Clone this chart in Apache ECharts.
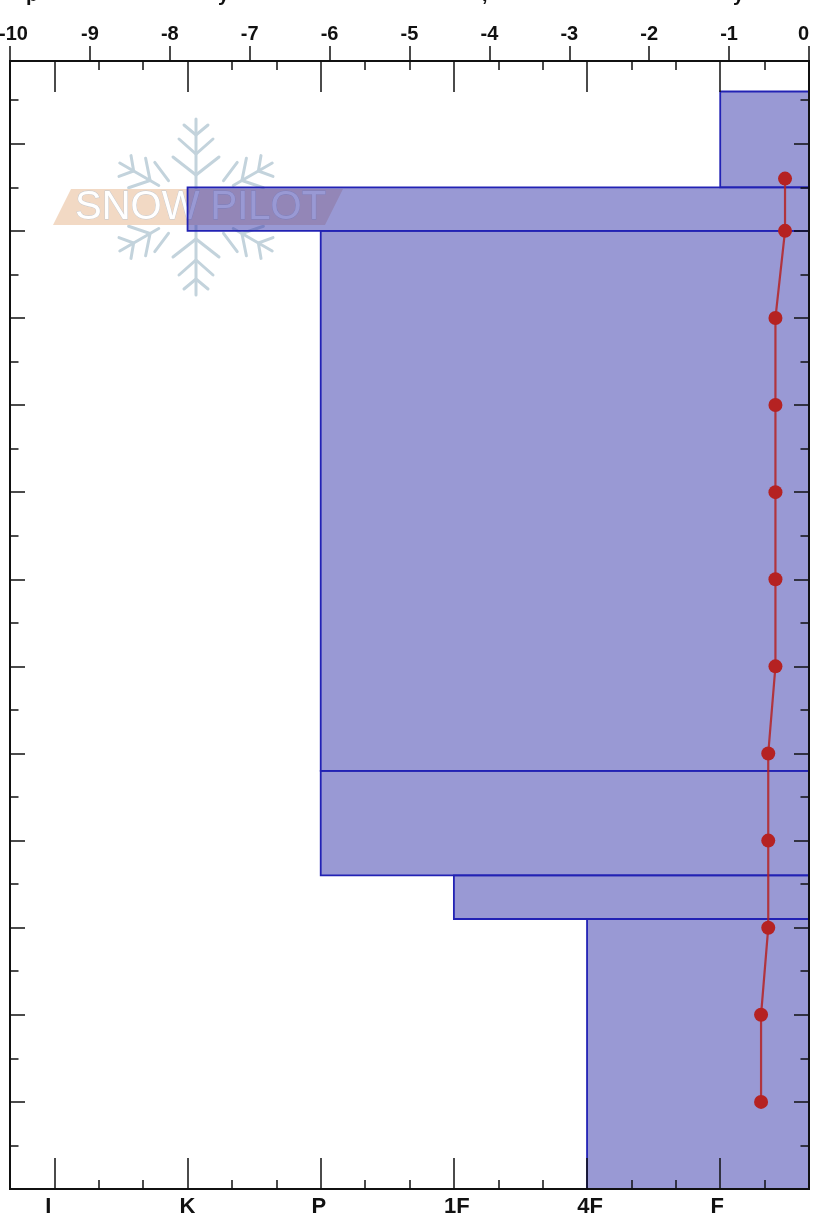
<!DOCTYPE html>
<html>
<head>
<meta charset="utf-8" />
<title>Snow profile</title>
<script src="https://cdn.jsdelivr.net/npm/echarts@6/dist/echarts.min.js"></script>
<style>
html, body { margin: 0; padding: 0; background: #fff; }
#main { width: 814px; height: 1215px; }
</style>
</head>
<body>
<div id="main"></div>
<script type="text/javascript">
// hardness scale, one major step is 3 units
var hardnessNames = ['I', 'K', 'P', '1F', '4F', 'F'];
var hardnessValues = [1, 4, 7, 10, 13, 16];

// layers, from the top of the pit down
var layerHardness = ['F', 'K', 'P', 'P', '1F', '4F'];
var layerTop = [126, 115, 110, 48, 36, 31];
var layerBottom = [115, 110, 48, 36, 31, 0];

// temperature profile
var tempHeight = [116, 110, 100, 90, 80, 70, 60, 50, 40, 30, 20, 10];
var tempValue = [-0.3, -0.3, -0.42, -0.42, -0.42, -0.42, -0.42, -0.51, -0.51, -0.51, -0.6, -0.6];

var HEIGHT_MAX = 129.5;
var AXIS_COLOR = '#111';
var LABEL_FONT = { fontFamily: '"Liberation Sans", sans-serif', fontWeight: 'bold', color: '#111' };

var layerData = layerHardness.map(function (h, i) {
	return [hardnessValues[hardnessNames.indexOf(h)], layerTop[i], layerBottom[i]];
});
var tempData = tempValue.map(function (t, i) { return [t, tempHeight[i]]; });

// the reference labels do not sit quite centred under their ticks
var labelRich = {
	I: { padding: [0, 12, 0, 0] },
	K: {},
	P: { padding: [0, 4, 0, 0] },
	'1F': { padding: [0, 0, 0, 6] },
	'4F': { padding: [0, 0, 0, 6] },
	F: { padding: [0, 6, 0, 0] }
};
var richStyles = {};
hardnessNames.forEach(function (n, i) {
	richStyles['h' + i] = Object.assign({ fontSize: 22 }, LABEL_FONT, labelRich[n]);
});

// horizontal hardness axis, drawn once for the long and once for the short ticks
function hardnessAxis(position, major) {
	var isBottomMajor = position === 'bottom' && major;
	return {
		type: 'value', position: position, min: 0, max: 18, interval: 1, z: 5,
		splitLine: { show: false },
		axisLine: { onZero: false, lineStyle: { color: AXIS_COLOR, width: 2 } },
		axisTick: major
			? { inside: true, length: 31, customValues: hardnessValues, lineStyle: { color: AXIS_COLOR, width: 1.5 } }
			: { inside: true, length: 9, lineStyle: { color: AXIS_COLOR, width: 1.5 } },
		axisLabel: isBottomMajor ? {
			customValues: hardnessValues, margin: 7, rich: richStyles,
			formatter: function (v) {
				var i = hardnessValues.indexOf(v);
				return '{h' + i + '|' + hardnessNames[i] + '}';
			}
		} : { show: false }
	};
}

function heightAxis(position, major) {
	var ticks = [];
	for (var h = 10; h < HEIGHT_MAX; h += 10) ticks.push(h);
	return {
		type: 'value', position: position, min: 0, max: HEIGHT_MAX, interval: 5, z: 5,
		splitLine: { show: false },
		axisLine: { onZero: false, lineStyle: { color: AXIS_COLOR, width: 2 } },
		axisTick: major
			? { inside: true, length: 15, customValues: ticks, lineStyle: { color: AXIS_COLOR, width: 1.5 } }
			: { inside: true, length: 8.5, lineStyle: { color: AXIS_COLOR, width: 1.5 } },
		axisLabel: { show: false }
	};
}

// watermark, sits under the layers
function flakeLine(points, angle) {
	var c = Math.cos(angle), s = Math.sin(angle);
	return {
		type: 'polyline', z: 0, silent: true,
		shape: { points: points.map(function (p) { return [196 + p[0] * c - p[1] * s, 207 + p[0] * s + p[1] * c]; }) },
		style: { fill: null, stroke: '#c3d3dc', lineWidth: 3, lineCap: 'round' }
	};
}
var watermark = [];
[0, 1, 2, 3, 4, 5].forEach(function (k) {
	var a = k * Math.PI / 3;
	var upright = k % 3 === 0;
	watermark.push(flakeLine([[0, upright ? 0 : -43], [0, -88]], a));
	watermark.push(flakeLine([[-12, -82], [0, -72], [12, -82]], a));
	watermark.push(flakeLine([[-17, -68], [0, -53], [17, -68]], a));
	if (upright) watermark.push(flakeLine([[-23, -50], [0, -32], [23, -50]], a));
	else watermark.push(flakeLine([[-18, -58], [-9, -37]], a), flakeLine([[18, -58], [9, -37]], a));
});
watermark.push({
	type: 'polygon', z: 0, silent: true,
	shape: { points: [[53, 225], [71, 189], [343, 189], [325, 225]] },
	style: { fill: '#f2d9c4' }
});
watermark.push({
	type: 'text', z: 0, silent: true, x: 75, y: 208,
	style: {
		text: 'SNOW PILOT', fill: '#fff', stroke: '#c3c8cf', lineWidth: 0.8,
		font: '40px "Liberation Sans", sans-serif', verticalAlign: 'middle'
	}
});

// bottoms of the title line, which the crop cuts off
['p', 'y', ',', 'y'].forEach(function (ch, i) {
	watermark.push({
		type: 'text', z: 0, silent: true, x: [26, 218, 482, 733][i], y: -15,
		style: { text: ch, fill: '#111', font: 'bold 20px "Liberation Sans", sans-serif', verticalAlign: 'top' }
	});
});

var chart = echarts.init(document.getElementById('main'), null, { renderer: 'canvas' });
chart.setOption({
	animation: false,
	backgroundColor: '#fff',
	graphic: { elements: watermark },
	grid: { left: 10, right: 5, top: 61, bottom: 26, outerBoundsMode: 'none' },
	xAxis: [
		{
			type: 'value', position: 'top', min: -10, max: 0, interval: 1, z: 5,
			splitLine: { show: false },
			axisLine: { onZero: false, lineStyle: { color: AXIS_COLOR, width: 2 } },
			axisTick: { inside: false, length: 15, lineStyle: { color: AXIS_COLOR, width: 1.5 } },
			axisLabel: Object.assign({
				margin: 17, fontSize: 20, alignMaxLabel: 'right',
				rich: { first: Object.assign({ fontSize: 20, padding: [0, 0, 0, 7] }, LABEL_FONT) },
				formatter: function (v) { return v === -10 ? '{first|-10}' : String(v); }
			}, LABEL_FONT)
		},
		hardnessAxis('bottom', true),
		hardnessAxis('bottom', false),
		hardnessAxis('top', true),
		hardnessAxis('top', false)
	],
	yAxis: [
		heightAxis('left', true),
		heightAxis('left', false),
		heightAxis('right', true),
		heightAxis('right', false)
	],
	series: [
		{
			type: 'custom',
			xAxisIndex: 1,
			yAxisIndex: 0,
			z: 2,
			silent: true,
			encode: { x: 0, y: [1, 2] },
			data: layerData,
			renderItem: function (params, api) {
				var from = api.coord([api.value(0), api.value(1)]);
				var to = api.coord([18, api.value(2)]);
				return {
					type: 'rect',
					shape: { x: from[0], y: from[1], width: to[0] - from[0], height: to[1] - from[1] },
					style: { fill: 'rgba(51,51,170,0.5)', stroke: '#2222b4', lineWidth: 1.8 }
				};
			}
		},
		{
			type: 'line',
			xAxisIndex: 0,
			yAxisIndex: 0,
			z: 3,
			silent: true,
			data: tempData,
			symbol: 'circle',
			symbolSize: 14,
			itemStyle: { color: '#b52222' },
			lineStyle: { color: '#b52222', width: 2.2, opacity: 0.85 }
		}
	]
});
</script>
</body>
</html>
